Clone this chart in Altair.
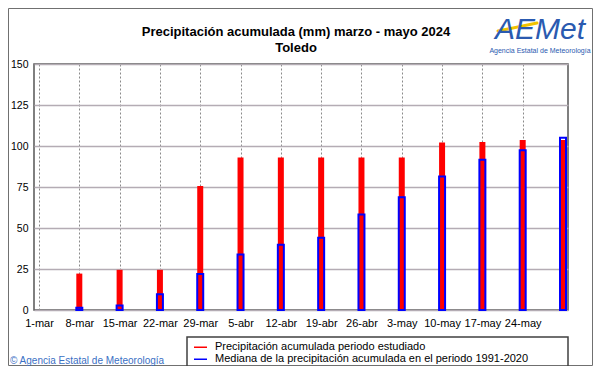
import json
import altair as alt
import pandas as pd

# ---------------- data ----------------
dates = ['1-mar', '8-mar', '15-mar', '22-mar', '29-mar', '5-abr', '12-abr',
         '19-abr', '26-abr', '3-may', '10-may', '17-may', '24-may', '31-may']
observed = [0, 22.2, 24.5, 24.5, 75.6, 93.0, 93.0, 93.0, 93.0, 93.0,
            102.2, 102.5, 103.7, 103.7]
median = [0, 1.3, 2.8, 9.6, 21.9, 33.8, 39.8, 44.0, 58.2, 68.8,
          81.4, 91.6, 97.4, 105.0]
y_ticks = [0, 25, 50, 75, 100, 125, 150]
series_names = ['Precipitación acumulada periodo estudiado',
                'Mediana de la precipitación acumulada en el periodo 1991-2020']
series_colors = ['#ff0000', '#0000ff']
title_lines = ['Precipitación acumulada (mm) marzo - mayo 2024', 'Toledo']
credit = '© Agencia Estatal de Meteorología'
logo_text = 'AEMet'
logo_sub = 'Agencia Estatal de Meteorología'

df = pd.DataFrame({'i': list(range(len(dates))), 'fecha': dates,
                   'obs': observed, 'med': median})

FONT = 'Liberation Sans'
W, H = 534, 246

x_scale = alt.Scale(domain=[0, len(dates) - 1], nice=False, zero=False)
y_scale = alt.Scale(domain=[0, 150], nice=False)

x_axis = alt.Axis(values=list(range(len(dates) - 1)),
                  labelExpr=json.dumps(dates) + '[datum.value]',
                  grid=True, gridColor='#8a8a8a', gridDash=[2, 2], gridWidth=1,
                  ticks=False, domain=False, labelFontSize=11, labelPadding=7,
                  labelColor='#000000', labelFlush=False, labelOverlap=False,
                  labelBound=False, title=None)
y_axis = alt.Axis(values=y_ticks, grid=True, gridColor='#b4acb4', gridWidth=1.5,
                  ticks=False, domain=False, labelFontSize=10.5, labelPadding=6,
                  labelColor='#000000', title=None)

base = alt.Chart(df)

red = base.mark_bar(size=6, color=series_colors[0]).transform_filter(
    'datum.obs > 0').encode(
    x=alt.X('i:Q', scale=x_scale, axis=x_axis),
    y=alt.Y('obs:Q', scale=y_scale, axis=y_axis),
)
blue = base.mark_bar(size=6, filled=False, color=series_colors[1],
                     strokeWidth=2).transform_filter('datum.med > 0').encode(
    x=alt.X('i:Q', scale=x_scale),
    y=alt.Y('med:Q', scale=y_scale),
)


def txt(s, x, y, **kw):
    return alt.Chart(pd.DataFrame({'t': [s]})).mark_text(
        baseline='alphabetic', **kw).encode(
        text='t:N', x=alt.value(x), y=alt.value(y))


one = pd.DataFrame({'a': [0]})

frame = alt.Chart(one).mark_rect(filled=False, stroke='#707070',
                                 strokeWidth=1).encode(
    x=alt.value(-25.5), x2=alt.value(558.5), y=alt.value(-55.5), y2=alt.value(301.5))

legend_box = alt.Chart(one).mark_rect(fill='#ffffff', stroke='#404040',
                                      strokeWidth=1.5).encode(
    x=alt.value(153), x2=alt.value(534), y=alt.value(273), y2=alt.value(302))

swoosh = alt.Chart(one).mark_rule(color='#f2c200', strokeWidth=3,
                                  strokeCap='round').encode(
    x=alt.value(464), x2=alt.value(503), y=alt.value(-33), y2=alt.value(-41))

t1 = txt(title_lines[0], 262, -28, fontSize=13, fontWeight='bold', font=FONT,
         align='center', color='#000000')
t2 = txt(title_lines[1], 262, -12, fontSize=13, fontWeight='bold', font=FONT,
         align='center', color='#000000')
cr = txt(credit, -24, 300, fontSize=10, font=FONT, align='left',
         color='#3a6fc4')
logo = txt(logo_text, 506, -25, fontSize=30, font=FONT, fontStyle='italic',
           align='center', color='#2a5ab0')
logo2 = txt(logo_sub, 506, -11, fontSize=7, font=FONT, align='center',
            color='#2a5ab0')

leg = alt.Chart(pd.DataFrame({'serie': series_names})).mark_point(
    opacity=0).encode(
    color=alt.Color('serie:N',
                    scale=alt.Scale(domain=series_names, range=series_colors),
                    legend=alt.Legend(orient='none', legendX=159, legendY=278,
                                      title=None, symbolType='stroke',
                                      symbolSize=169, symbolStrokeWidth=1.5,
                                      symbolOpacity=1, labelFontSize=11,
                                      labelFont=FONT, labelColor='#000000',
                                      labelOffset=7, rowPadding=0,
                                      clipHeight=10.5, padding=0,
                                      labelLimit=400)))

chart = alt.layer(frame, legend_box, swoosh, red, blue, t1, t2, cr, logo,
                  logo2, leg).properties(
    width=W, height=H,
    autosize=alt.AutoSizeParams(type='none'),
    padding={'left': 26, 'top': 56, 'right': 25, 'bottom': 56},
    background='#ffffff',
).configure(font=FONT).configure_view(
    fill='#b4f0da', stroke='#555555', strokeWidth=1.5)

chart.save('out.html', embed_options={'renderer': 'svg', 'actions': False})
